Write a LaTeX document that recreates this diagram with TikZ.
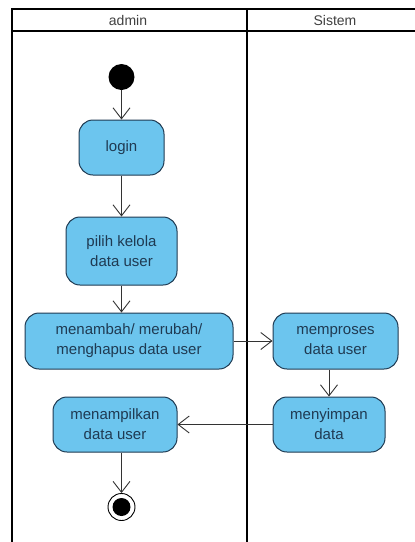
\documentclass[tikz,border=0pt]{standalone}
\usepackage{fontspec}
\setmainfont{Liberation Sans}
\usetikzlibrary{arrows.meta}
\definecolor{actfill}{HTML}{6CC5EE}
\definecolor{actline}{HTML}{1F3A52}
\definecolor{acttext}{HTML}{1F3A52}
\tikzset{
  act/.style={draw=actline, line width=1pt, fill=actfill, rounded corners=14pt,
    text=acttext, font=\fontsize{15}{20}\selectfont, align=center, inner sep=0pt},
  flow/.style={draw=black!80, line width=0.9pt, -{Straight Barb[length=11pt,width=17pt,line width=0.9pt]}},
  lane/.style={draw=black, line width=2pt},
  lanehead/.style={font=\fontsize{14}{16}\selectfont, text=black!75, inner sep=0pt}
}
\begin{document}
\begin{tikzpicture}[x=1pt,y=-1pt]
\useasboundingbox (0,0) rectangle (415,542);
% swimlanes
\draw[lane] (11.5,560) -- (11.5,9) -- (430,9);
\draw[lane] (11.5,31) -- (430,31);
\draw[lane] (246.5,9) -- (246.5,560);
\node[lanehead] (hadmin) at (128,20) {admin};
\node[lanehead] (hsis) at (335,20) {Sistem};
% nodes
\node[circle, fill=black, minimum size=26pt, inner sep=0pt] (start) at (121.5,77) {};
\node[act, minimum width=85pt, minimum height=55pt] (login) at (121.5,147.5) {login};
\node[act, minimum width=111pt, minimum height=68pt] (pilih) at (121.5,251) {pilih kelola\\data user};
\node[act, minimum width=208pt, minimum height=56pt] (tambah) at (129,341) {menambah/ merubah/\\menghapus data user};
\node[act, minimum width=125pt, minimum height=56pt] (proses) at (335.5,341) {memproses\\data user};
\node[act, minimum width=112pt, minimum height=55pt] (simpan) at (329,424.5) {menyimpan\\data};
\node[act, minimum width=124pt, minimum height=55pt] (tampil) at (115,424.5) {menampilkan\\data user};
\node[circle, draw=black, line width=0.9pt, fill=white, minimum size=27pt, inner sep=0pt] (end) at (121.5,507) {};
\node[circle, fill=black, minimum size=18pt, inner sep=0pt] (endin) at (end.center) {};
% connectors
\draw[flow] (start) -- (login);
\draw[flow] (login) -- (pilih);
\draw[flow] (pilih) -- (pilih |- tambah.north);
\draw[flow] (tambah) -- (proses);
\draw[flow] (simpan.north |- proses.south) -- (simpan);
\draw[flow] (simpan) -- (tampil);
\draw[flow] (end |- tampil.south) -- (end);
\end{tikzpicture}
\end{document}
